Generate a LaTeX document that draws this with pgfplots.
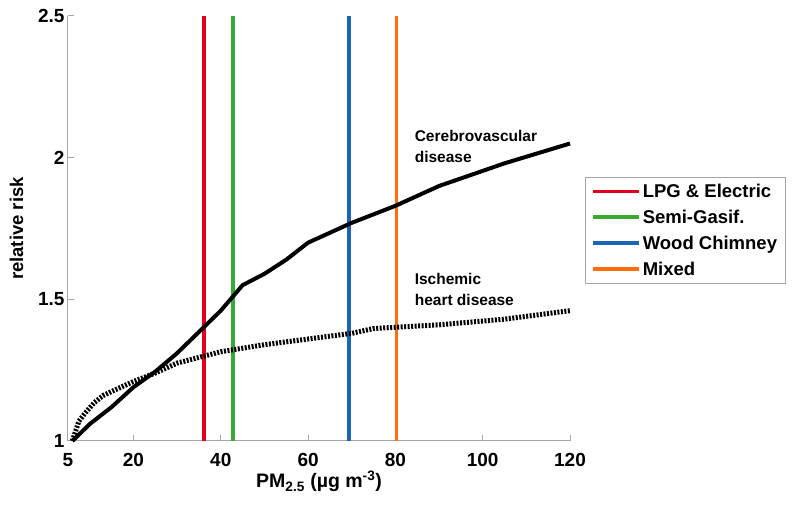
\documentclass[border=0pt]{standalone}
\usepackage{pgfplots}
\pgfplotsset{compat=1.18}
\usepackage{fontspec}
\setmainfont{Liberation Sans}
\definecolor{cLPG}{RGB}{226,0,26}
\definecolor{cSemi}{RGB}{55,170,50}
\definecolor{cWood}{RGB}{30,100,180}
\definecolor{cMixed}{RGB}{255,110,10}
\begin{document}
\begin{tikzpicture}
\useasboundingbox (-68pt,-67pt) rectangle (732pt,441pt);
\begin{axis}[
  scale only axis,
  width=502pt, height=425pt,
  xmin=5, xmax=120, ymin=1, ymax=2.5,
  xtick={5,20,40,60,80,100,120},
  ytick={1,1.5,2,2.5},
  yticklabels={1,1.5,2,2.5},
  axis x line*=bottom, axis y line*=left,
  axis line style={gray!70, line width=1pt},
  tick style={gray!70, line width=1pt},
  tick align=inside, major tick length=6pt,
  /pgf/number format/assume math mode=true,
  tick label style={font=\fontsize{19}{21}\selectfont\bfseries},
  xticklabel shift=9pt,
  xlabel={PM\textsubscript{2.5} (\textmu g m\textsuperscript{-3})},
  ylabel={relative risk},
  xlabel style={font=\fontsize{19.5}{21}\selectfont\bfseries, yshift=3pt},
  ylabel style={font=\fontsize{18.5}{20}\selectfont\bfseries, yshift=8pt},
  legend style={at={(rel axis cs:1.03,0.496)}, anchor=west, draw=gray!70,
    font=\fontsize{18.5}{20}\selectfont\bfseries, row sep=7pt,
    inner xsep=6pt, inner ysep=5pt},
  legend cell align=left,
  legend image code/.code={\draw[#1] (0pt,0pt) -- (46pt,0pt);},
  clip=false,
]
\addplot[cLPG, line width=3.5pt] coordinates {(36.2,1) (36.2,2.5)};
\addplot[cSemi, line width=3.5pt] coordinates {(42.8,1) (42.8,2.5)};
\addplot[cWood, line width=3.5pt] coordinates {(69.4,1) (69.4,2.5)};
\addplot[cMixed, line width=3.5pt] coordinates {(80.2,1) (80.2,2.5)};
\legend{LPG \& Electric, Semi-Gasif., Wood Chimney, Mixed}
% cerebrovascular
\addplot[black, line width=4pt, forget plot] coordinates {
 (6,1) (10,1.06) (15,1.12) (20,1.19) (25,1.245) (30,1.31) (36,1.4) (40,1.46)
 (45,1.55) (50,1.59) (55,1.64) (60,1.70) (70,1.77) (80,1.83) (90,1.90)
 (105,1.98) (120,2.05)};
% ischemic
\addplot[black, line width=5pt, dash pattern=on 2pt off 1.5pt, forget plot] coordinates {
 (6,1) (7.5,1.07) (9,1.10) (11,1.135) (13,1.16) (15,1.175) (20,1.21) (25,1.24)
 (30,1.275) (35,1.295) (40,1.315) (50,1.34) (60,1.36) (70,1.38) (75,1.397)
 (90,1.41) (105,1.43) (120,1.46)};
\node[anchor=north west, align=left, font=\fontsize{15.5}{21}\selectfont\bfseries, inner sep=0pt]
  at (axis cs:84.4,2.097) {Cerebrovascular\\disease};
\node[anchor=north west, align=left, font=\fontsize{15.5}{21}\selectfont\bfseries, inner sep=0pt]
  at (axis cs:84.4,1.593) {Ischemic\\heart disease};
\end{axis}
\end{tikzpicture}
\end{document}
